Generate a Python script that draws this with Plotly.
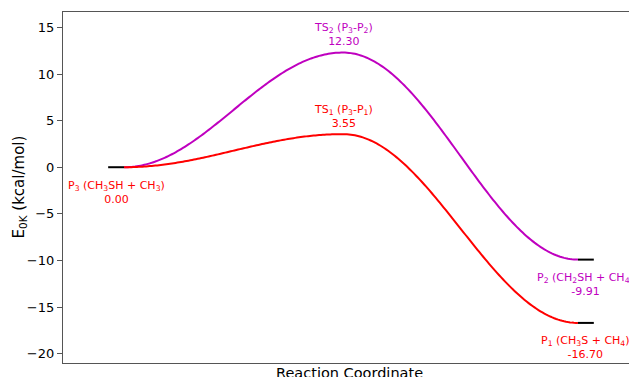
import numpy as np
import plotly.graph_objects as go

# Stationary-point energies (kcal/mol, 0 K)
energies_p1_path = [0.00, 3.55, -16.70]   # P3 -> TS1 -> P1
energies_p2_path = [0.00, 12.30, -9.91]   # P3 -> TS2 -> P2

label_p3 = "P<sub>3</sub> (CH<sub>3</sub>SH + CH<sub>3</sub>)"
label_ts1 = "TS<sub>1</sub> (P<sub>3</sub>-P<sub>1</sub>)"
label_ts2 = "TS<sub>2</sub> (P<sub>3</sub>-P<sub>2</sub>)"
label_p1 = "P<sub>1</sub> (CH<sub>3</sub>S + CH<sub>4</sub>)"
label_p2 = "P<sub>2</sub> (CH<sub>2</sub>SH + CH<sub>4</sub>)"

y_ticks = [-20, -15, -10, -5, 0, 5, 10, 15]

# Layout along the reaction coordinate
stage_x = [1.0, 1.965, 3.0]
level_w = 0.07

RED = "#ff0000"
MAG = "#bf00bf"
FONT = "DejaVu Sans"


def connector(xs, ys, n=120):
    """Smooth cosine-eased path through consecutive stationary points."""
    px, py = [], []
    for i in range(len(xs) - 1):
        t = np.linspace(0, 1, n)
        px.extend(xs[i] + (xs[i + 1] - xs[i]) * t)
        py.extend(ys[i] + (ys[i + 1] - ys[i]) * (1 - np.cos(np.pi * t)) / 2)
    return px, py


fig = go.Figure()

for ys, col in [(energies_p2_path, MAG), (energies_p1_path, RED)]:
    cx, cy = connector(stage_x, ys)
    fig.add_trace(go.Scatter(x=cx, y=cy, mode="lines",
                             line=dict(color=col, width=2, simplify=False),
                             hoverinfo="skip"))

# Horizontal levels for reactant and products
levels = [
    (stage_x[0] - level_w, stage_x[0], energies_p1_path[0]),
    (stage_x[2], stage_x[2] + level_w, energies_p2_path[2]),
    (stage_x[2], stage_x[2] + level_w, energies_p1_path[2]),
]
for x0, x1, e in levels:
    fig.add_trace(go.Scatter(x=[x0, x1], y=[e, e], mode="lines",
                             line=dict(color="black", width=2), hoverinfo="skip"))

ann_font = dict(family=FONT, size=11)
annotations = [
    (stage_x[0] - level_w / 2, energies_p1_path[0], label_p3, energies_p1_path[0], RED, -25),
    (stage_x[1], energies_p1_path[1], label_ts1, energies_p1_path[1], RED, 18),
    (stage_x[1], energies_p2_path[1], label_ts2, energies_p2_path[1], MAG, 18),
    (stage_x[2] + level_w / 2, energies_p2_path[2], label_p2, energies_p2_path[2], MAG, -25),
    (stage_x[2] + level_w / 2, energies_p1_path[2], label_p1, energies_p1_path[2], RED, -25),
]
for x, y, name, val, col, shift in annotations:
    fig.add_annotation(x=x, y=y, text=f"{name}<br>{val:.2f}", showarrow=False,
                       yshift=shift, xanchor="center", yanchor="middle",
                       align="center", font=dict(color=col, **ann_font))

# Axis titles
fig.add_annotation(xref="paper", yref="paper", x=0.506, y=0, yshift=0,
                   xanchor="center", yanchor="top", showarrow=False,
                   text="Reaction Coordinate", font=dict(size=14.5, family=FONT, color="black"))
fig.add_annotation(xref="paper", yref="paper", x=0, y=0.5, xshift=-44,
                   xanchor="center", yanchor="middle", showarrow=False, textangle=-90,
                   text="E<sub>0K</sub> (kcal/mol)", font=dict(size=15, family=FONT, color="black"))

fig.update_layout(
    width=629, height=377,
    margin=dict(l=63, r=0, t=12, b=14),
    paper_bgcolor="white", plot_bgcolor="white",
    showlegend=False,
    font=dict(family=FONT, color="black"),
)
fig.update_xaxes(
    range=[0.731, 3.225], showgrid=False, zeroline=False, showticklabels=False,
    ticks="", showline=True, linecolor="#555", linewidth=1.2, mirror=True,
)
fig.update_yaxes(
    range=[-21.0, 16.65], showgrid=False, zeroline=False,
    tickvals=y_ticks, ticks="outside", ticklen=5, tickcolor="#555", tickwidth=1,
    showline=True, linecolor="#555", linewidth=1.2, mirror=False,
    tickfont=dict(size=13, family=FONT),
)

fig.write_html("out.html")
